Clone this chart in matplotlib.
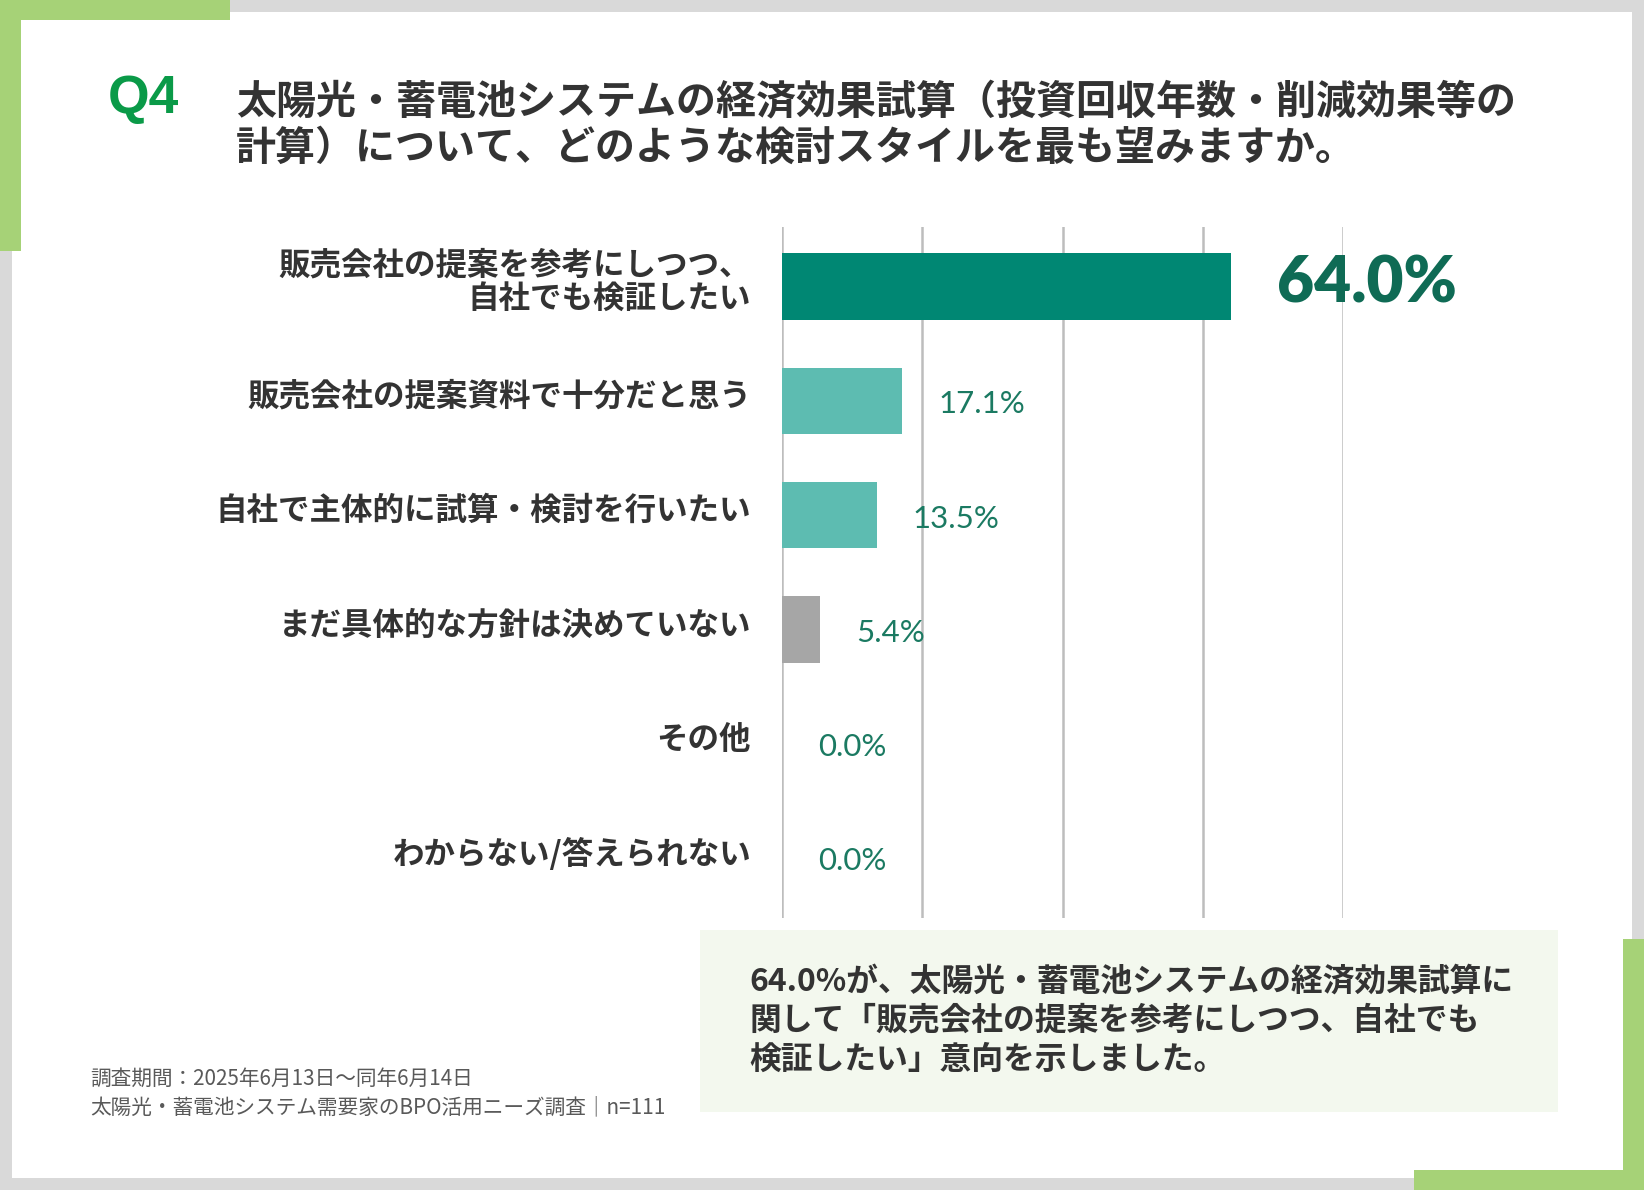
import matplotlib
matplotlib.use('Agg')
import matplotlib.pyplot as plt
from matplotlib.patches import Rectangle
from matplotlib.transforms import blended_transform_factory

plt.rcParams['font.family'] = ['Noto Sans CJK JP', 'DejaVu Sans']

# データ
categories = [
    '販売会社の提案を参考にしつつ、\n自社でも検証したい',
    '販売会社の提案資料で十分だと思う',
    '自社で主体的に試算・検討を行いたい',
    'まだ具体的な方針は決めていない',
    'その他',
    'わからない/答えられない',
]
values = [64.0, 17.1, 13.5, 5.4, 0.0, 0.0]
bar_colors = ['#008773', '#5dbcb1', '#5dbcb1', '#a6a6a6', '#a6a6a6', '#a6a6a6']
grid_ticks = [0, 20, 40, 60, 80]

title_q = 'Q4'
title_text = '太陽光・蓄電池システムの経済効果試算（投資回収年数・削減効果等の\n計算）について、どのような検討スタイルを最も望みますか。'
summary_text = '64.0%が、太陽光・蓄電池システムの経済効果試算に\n関して「販売会社の提案を参考にしつつ、自社でも\n検証したい」意向を示しました。'
footnote_text = '調査期間：2025年6月13日〜同年6月14日\n太陽光・蓄電池システム需要家のBPO活用ニーズ調査｜n=111'

W, H = 1644, 1190
fig = plt.figure(figsize=(W / 100, H / 100), dpi=100)
fig.patch.set_facecolor('white')


def px_rect(x0, y0, x1, y1, color):
    """ピクセル座標(上原点)で矩形を描く"""
    fig.patches.append(Rectangle((x0 / W, 1 - y1 / H), (x1 - x0) / W, (y1 - y0) / H,
                                 transform=fig.transFigure, facecolor=color,
                                 edgecolor='none', zorder=0))


# 枠
grey = '#d9d9d9'
green = '#a6d277'
px_rect(0, 0, W, 12, grey)
px_rect(0, 0, 12, H, grey)
px_rect(W - 12, 0, W, H, grey)
px_rect(0, H - 12, W, H, grey)
px_rect(0, 0, 230, 20, green)
px_rect(0, 0, 21, 251, green)
px_rect(1623, 939, W, H, green)
px_rect(1414, 1170, W, H, green)

# まとめボックス
px_rect(700, 930, 1558, 1112, '#f3f8ee')

# タイトル
fig.text(108 / W, 1 - 99 / H, title_q, fontsize=38.5, fontweight='bold', color='#0a9a48',
         family='Liberation Sans', va='center', ha='left')
fig.text(236 / W, 1 - 125 / H, title_text, fontsize=28.8, fontweight='bold', color='#333333',
         va='center', ha='left', linespacing=1.15)

# グラフ
ax = fig.add_axes([782 / W, 1 - 917.5 / H, 561 / W, 691 / H])
y = list(range(len(categories)))
ax.barh(y, values, height=0.58, color=bar_colors, edgecolor='none', zorder=2)
ax.set_xlim(0, 80)
ax.set_ylim(5.52, -0.525)
for t in grid_ticks:
    ax.axvline(t, color='#bdbdbd', linewidth=1.8, zorder=1)
for s in ax.spines.values():
    s.set_visible(False)
ax.set_xticks([])
ax.set_yticks([])
ax.patch.set_alpha(0)

# カテゴリラベル
trans = blended_transform_factory(fig.transFigure, ax.transData)
for i, lab in enumerate(categories):
    ax.text(751 / W, i - 0.035, lab, transform=trans, ha='right', va='center',
            fontsize=22.7, fontweight='bold', color='#333333', linespacing=1.05)

# 値ラベル
for i, v in enumerate(values):
    if i == 0:
        ax.annotate(f'{v:.1f}%', (v, i - 0.02), xytext=(33, 0), textcoords='offset points',
                    ha='left', va='center', fontsize=46, fontweight='heavy',
                    color='#0f6b55', family='Lato')
    else:
        ax.annotate(f'{v:.1f}%', (v, i + 0.03), xytext=(26, 0), textcoords='offset points',
                    ha='left', va='center', fontsize=22.5, color='#1b7a62', family='Lato')

# まとめテキスト
fig.text(749 / W, 1 - 1021 / H, summary_text, fontsize=22.9, fontweight='bold',
         color='#333333', va='center', ha='left', linespacing=1.28)

# 注記
fig.text(90 / W, 1 - 1093 / H, footnote_text, fontsize=14.9, color='#595959',
         va='center', ha='left', linespacing=1.35)

fig.savefig('out.png', dpi=100, facecolor=fig.get_facecolor())
plt.close(fig)
